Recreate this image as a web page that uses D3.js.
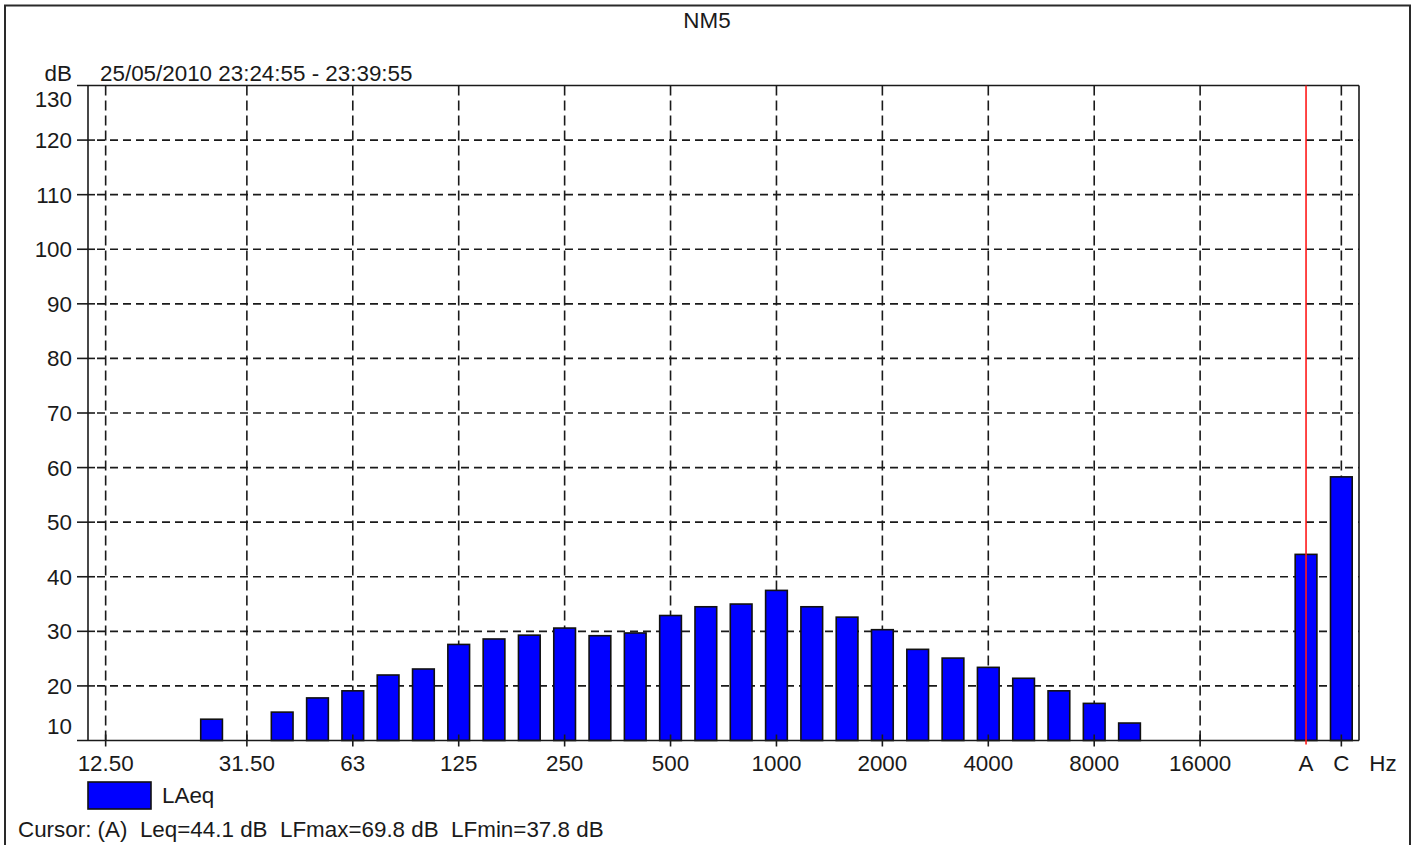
<!DOCTYPE html>
<html>
<head>
<meta charset="utf-8">
<script src="https://cdn.jsdelivr.net/npm/d3@7"></script>
<style>
  html, body { margin: 0; padding: 0; background: #fff; }
  svg { display: block; }
  text { font-family: "Liberation Sans", Arial, sans-serif; fill: #1a1a1a; }
</style>
</head>
<body>
<svg id="chart" width="1416" height="845"></svg>
<script>
// Third-octave bands plus broadband A / C totals (one empty spacer slot before A)
const bands = ["12.5","16","20","25","31.5","40","50","63","80","100","125","160","200","250",
  "315","400","500","630","800","1000","1250","1600","2000","2500","3150","4000","5000","6300",
  "8000","10000","12500","16000","20000","spacer","A","C"];

// LAeq per band, dB (null = no bar)
const laeq = [null,null,null,13.9,null,15.2,17.8,19.1,22.0,23.1,27.6,28.6,29.3,30.6,
  29.2,29.7,32.9,34.5,35.0,37.5,34.5,32.6,30.3,26.7,25.1,23.4,21.4,19.1,
  16.8,13.2,null,null,null,null,44.1,58.3];

// Labelled frequency ticks
const tickBands = ["12.5","31.5","63","125","250","500","1000","2000","4000","8000","16000","A","C"];
const tickLabels = ["12.50","31.50","63","125","250","500","1000","2000","4000","8000","16000","A","C"];

const yTicks = [10,20,30,40,50,60,70,80,90,100,110,120,130];

const cursorBand = "A";
const titleText = "NM5";
const periodText = "25/05/2010 23:24:55 - 23:39:55";
const legendText = "LAeq";
const cursorText = "Cursor: (A)  Leq=44.1 dB  LFmax=69.8 dB  LFmin=37.8 dB";

const FS = 22.4;
const svg = d3.select("#chart");
const plot = { left: 88, right: 1359, top: 85.5, bottom: 740.5 };

const x = d3.scaleBand().domain(bands).range([plot.left, plot.right]).padding(0);
const y = d3.scaleLinear().domain([10, 130]).range([plot.bottom, plot.top]);
const cx = b => x(b) + x.bandwidth() / 2;
const barW = x.bandwidth() * 0.615;

// Outer frame
svg.append("rect")
  .attr("x", 5).attr("y", 5.5).attr("width", 1405).attr("height", 860)
  .attr("fill", "none").attr("stroke", "#2a2a2a").attr("stroke-width", 2);

// Title and header texts
svg.append("text").attr("x", 707).attr("y", 27.5).attr("text-anchor", "middle")
  .attr("font-size", FS).text(titleText);
svg.append("text").attr("x", 72).attr("y", 81).attr("text-anchor", "end")
  .attr("font-size", FS).text("dB");
svg.append("text").attr("x", 100).attr("y", 81)
  .attr("font-size", FS).text(periodText);

// Horizontal dashed grid (behind bars)
svg.append("g").selectAll("line")
  .data(yTicks.filter(v => v > 10 && v < 130))
  .join("line")
  .attr("x1", plot.left + 9).attr("x2", plot.right)
  .attr("y1", d => y(d)).attr("y2", d => y(d))
  .attr("stroke", "#1a1a1a").attr("stroke-width", 1.6)
  .attr("stroke-dasharray", "8,5");

// Vertical dashed grid at labelled bands
svg.append("g").selectAll("line")
  .data(tickBands.filter(b => b !== cursorBand))
  .join("line")
  .attr("x1", d => cx(d)).attr("x2", d => cx(d))
  .attr("y1", plot.top).attr("y2", plot.bottom)
  .attr("stroke", "#1a1a1a").attr("stroke-width", 1.6)
  .attr("stroke-dasharray", "10,5");

// Bars
svg.append("g").selectAll("rect")
  .data(bands.map((b, i) => ({ band: b, v: laeq[i] })).filter(d => d.v !== null))
  .join("rect")
  .attr("x", d => cx(d.band) - barW / 2)
  .attr("width", barW)
  .attr("y", d => y(d.v))
  .attr("height", d => y(10) - y(d.v))
  .attr("fill", "#0000ff")
  .attr("stroke", "#111").attr("stroke-width", 1.6);

// Plot border: top, right, left axis, bottom axis
const axisG = svg.append("g").attr("stroke", "#1a1a1a").attr("stroke-width", 1.6);
axisG.append("line").attr("x1", 77).attr("x2", plot.right).attr("y1", plot.top).attr("y2", plot.top);
axisG.append("line").attr("x1", 77).attr("x2", plot.right).attr("y1", plot.bottom).attr("y2", plot.bottom);
axisG.append("line").attr("x1", plot.left).attr("x2", plot.left).attr("y1", plot.top).attr("y2", plot.bottom);
axisG.append("line").attr("x1", plot.right).attr("x2", plot.right).attr("y1", plot.top).attr("y2", plot.bottom);

// Y ticks crossing the axis
axisG.selectAll("line.ytick")
  .data(yTicks.filter(v => v > 10 && v < 130))
  .join("line").attr("class", "ytick")
  .attr("x1", 77).attr("x2", 95)
  .attr("y1", d => y(d)).attr("y2", d => y(d));

// Y tick labels (end labels kept inside the plot height)
svg.append("g").selectAll("text")
  .data(yTicks)
  .join("text")
  .attr("x", 72)
  .attr("y", d => Math.min(Math.max(y(d), plot.top + 13), plot.bottom - 15))
  .attr("dy", "0.36em")
  .attr("text-anchor", "end")
  .attr("font-size", FS)
  .text(d => d);

// X ticks below the axis
axisG.selectAll("line.xtick")
  .data(tickBands.filter(b => b !== cursorBand))
  .join("line").attr("class", "xtick")
  .attr("x1", d => cx(d)).attr("x2", d => cx(d))
  .attr("y1", plot.bottom - 6).attr("y2", plot.bottom + 6);

// X tick labels
svg.append("g").selectAll("text")
  .data(tickBands)
  .join("text")
  .attr("x", d => cx(d))
  .attr("y", 771)
  .attr("text-anchor", "middle")
  .attr("font-size", FS)
  .text((d, i) => tickLabels[i]);

svg.append("text").attr("x", 1383).attr("y", 771).attr("text-anchor", "middle")
  .attr("font-size", FS).text("Hz");

// Cursor line at A
svg.append("line")
  .attr("x1", cx(cursorBand)).attr("x2", cx(cursorBand))
  .attr("y1", plot.top).attr("y2", plot.bottom + 4)
  .attr("stroke", "#ff1a1a").attr("stroke-width", 1.6);

// Legend
svg.append("rect").attr("x", 88).attr("y", 782).attr("width", 63).attr("height", 27)
  .attr("fill", "#0000ff").attr("stroke", "#111").attr("stroke-width", 1.6);
svg.append("text").attr("x", 162).attr("y", 803).attr("font-size", FS).text(legendText);

// Cursor readout
svg.append("text").attr("x", 18).attr("y", 837).attr("font-size", FS)
  .style("white-space", "pre").text(cursorText);
</script>
</body>
</html>
